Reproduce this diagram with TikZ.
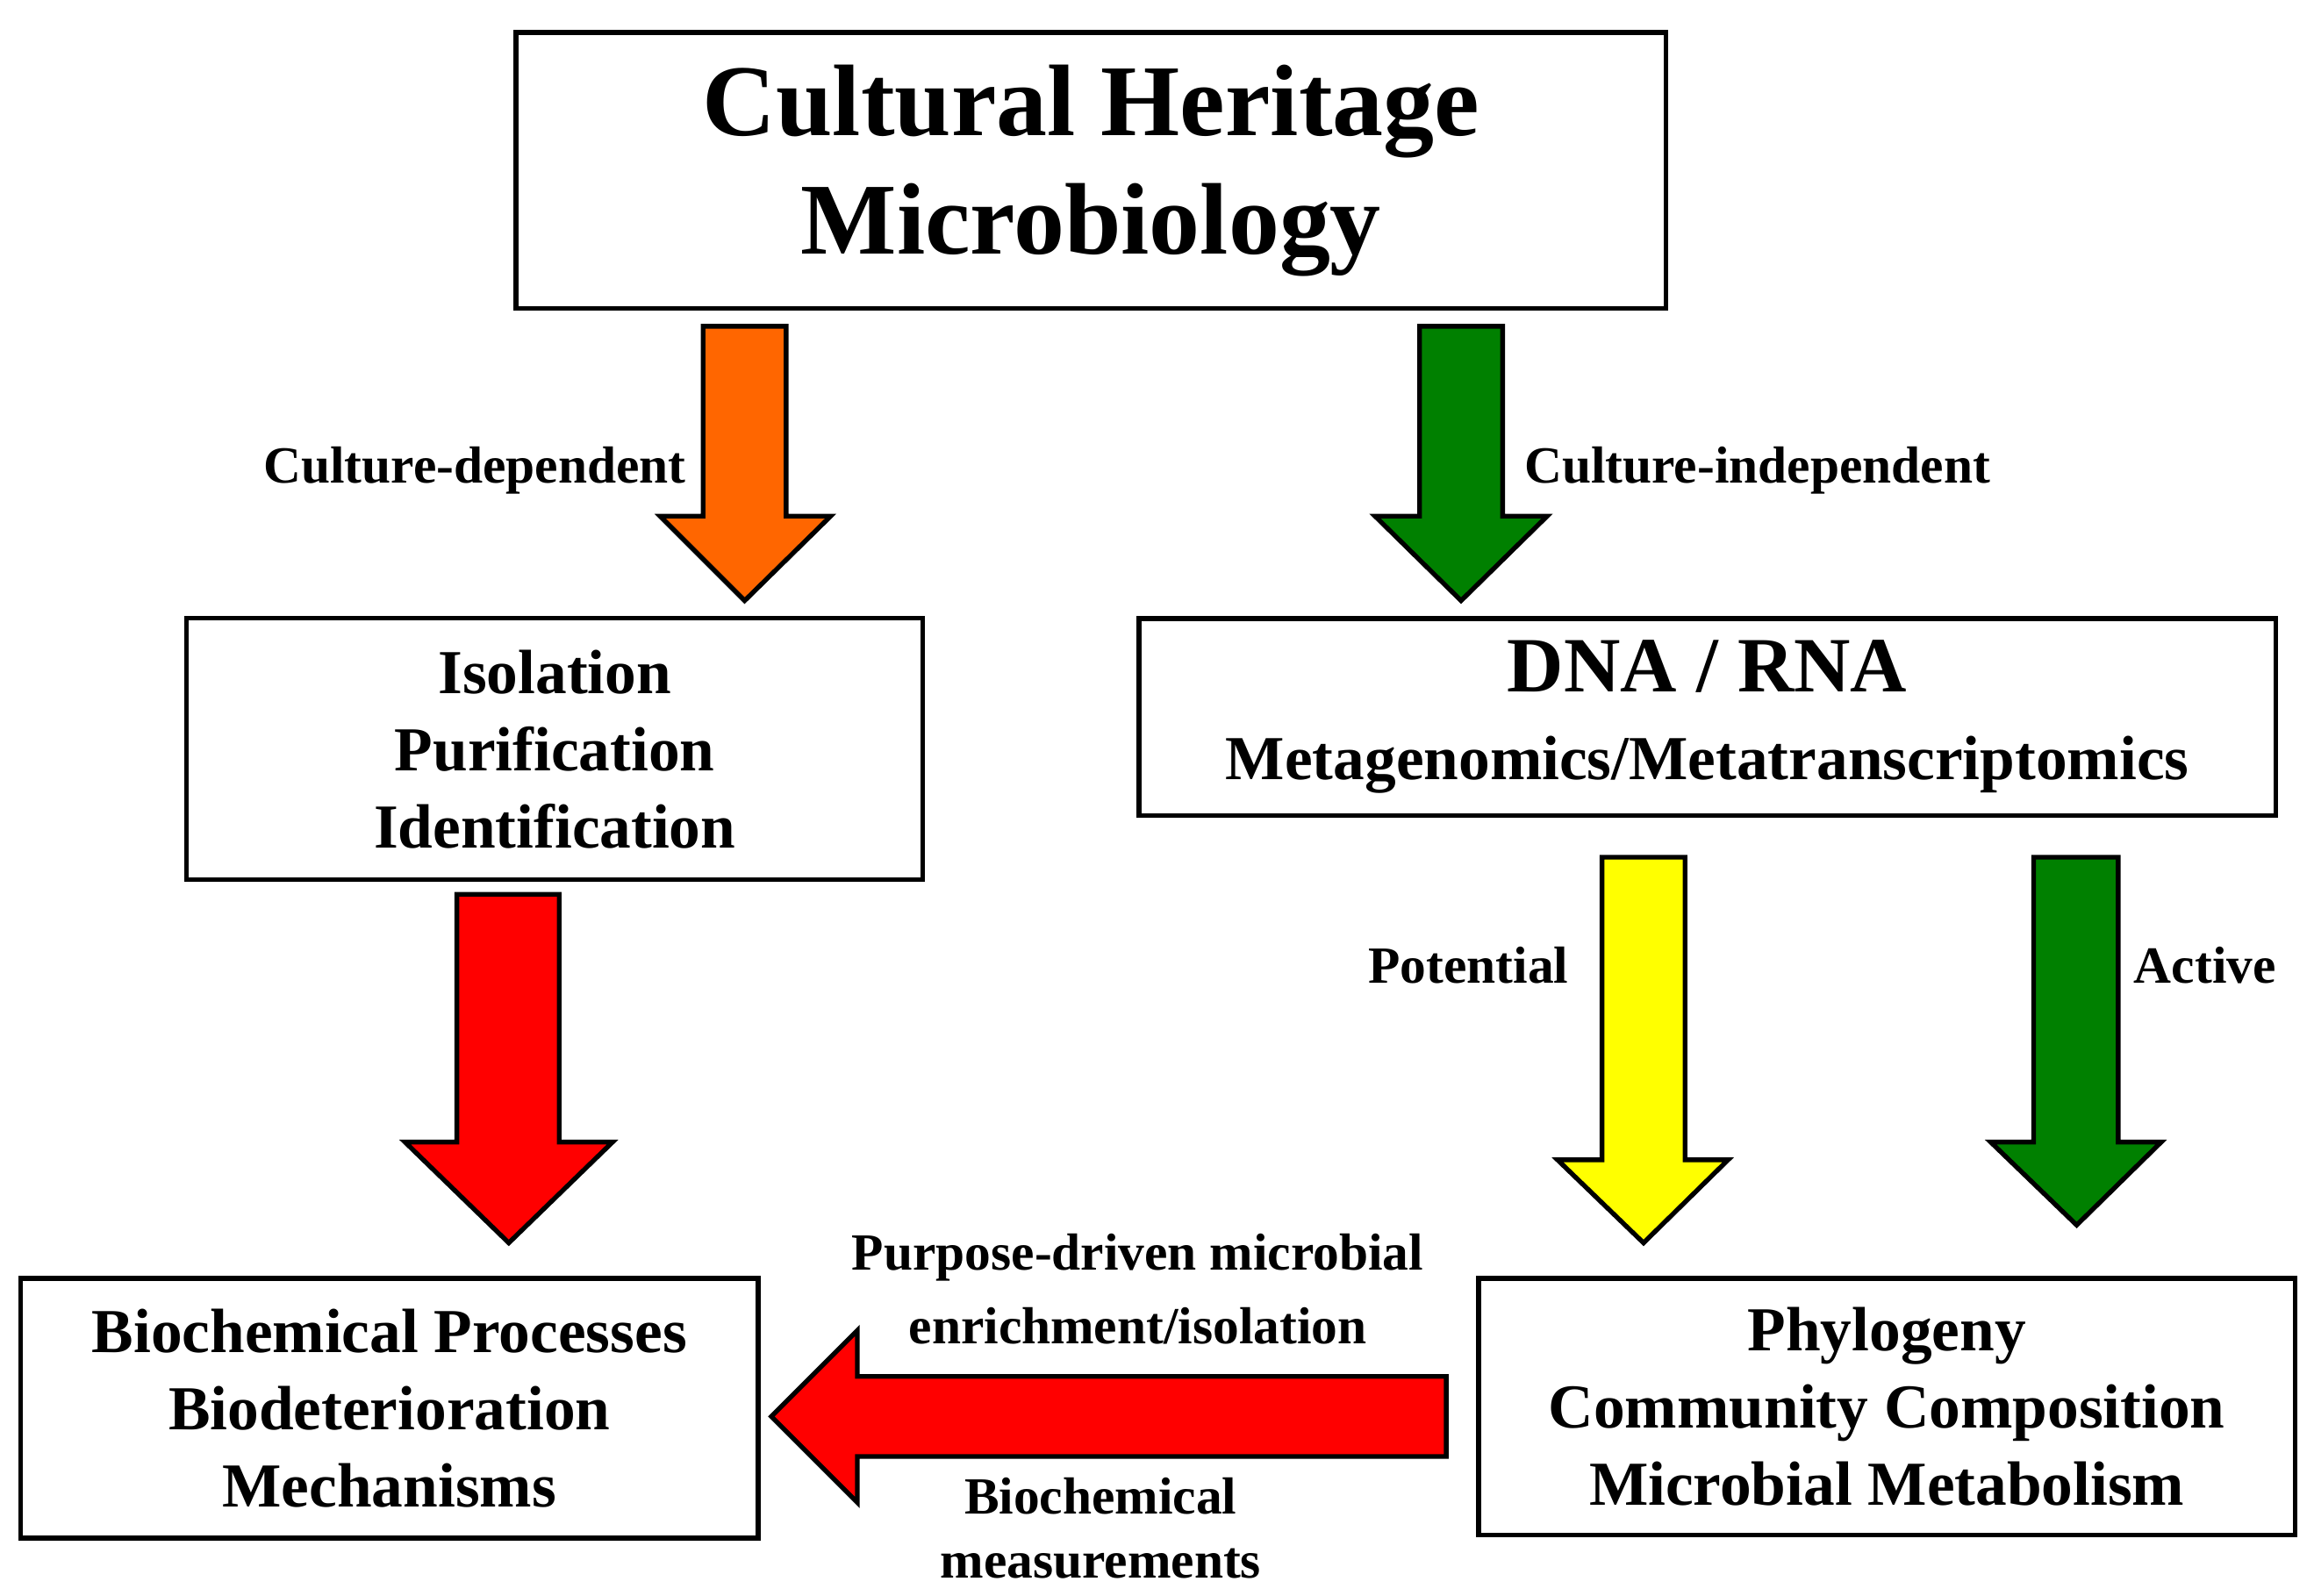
\documentclass[tikz,border=0pt]{standalone}
\usepackage{fontspec}
\setmainfont{Liberation Serif}
\usepackage{tikz}

\definecolor{arrorange}{RGB}{255,102,0}
\definecolor{arrgreen}{RGB}{0,128,0}
\definecolor{arryellow}{RGB}{255,255,0}
\definecolor{arrred}{RGB}{255,0,0}

\tikzset{
  box/.style={draw, line width=0.9pt, align=center, inner sep=0pt, font=\bfseries\fontsize{12}{14.8}\selectfont},
  lbl/.style={font=\bfseries\fontsize{10}{13}\selectfont, inner sep=0pt},
  blk/.style={draw, line width=0.9pt}
}

\begin{document}
\begin{tikzpicture}[x=0.01cm, y=-0.01cm]
\useasboundingbox (0,0) rectangle (1560,1076);

% boxes
\node[box, minimum width=7.75cm, minimum height=1.86cm, font=\bfseries\fontsize{19.5}{22.8}\selectfont] (heritage) at (735.5,115) {Cultural Heritage\\Microbiology};
\node[box, minimum width=4.96cm, minimum height=1.76cm] (isolation) at (374,505) {Isolation\\Purification\\Identification};
\node[box, minimum width=7.66cm, minimum height=1.33cm] (dna) at (1151,483.5) {{\fontsize{15}{17}\selectfont DNA / RNA}\\[2pt]Metagenomics/Metatranscriptomics};
\node[box, minimum width=4.97cm, minimum height=1.75cm] (biochem) at (262.5,949.5) {Biochemical Processes\\Biodeterioration\\Mechanisms};
\node[box, minimum width=5.5cm, minimum height=1.73cm] (phylo) at (1272,948.5) {Phylogeny\\Community Composition\\Microbial Metabolism};

% block arrows
\draw[blk, fill=arrorange] (474,220) -- (530,220) -- (530,348) -- (560,348) -- (502,405) -- (445,348) -- (474,348) -- cycle;
\draw[blk, fill=arrgreen] (957,220) -- (1013,220) -- (1013,348) -- (1043,348) -- (985,405) -- (927,348) -- (957,348) -- cycle;
\draw[blk, fill=arrred] (308,603) -- (377,603) -- (377,770) -- (413,770) -- (343,838) -- (273,770) -- (308,770) -- cycle;
\draw[blk, fill=arryellow] (1080,578) -- (1136,578) -- (1136,782) -- (1165,782) -- (1108,838) -- (1050,782) -- (1080,782) -- cycle;
\draw[blk, fill=arrgreen] (1371,578) -- (1428,578) -- (1428,770) -- (1457,770) -- (1400,826) -- (1342,770) -- (1371,770) -- cycle;
\draw[blk, fill=arrred] (975,928) -- (975,982) -- (578,982) -- (578,1013) -- (520,955) -- (578,897) -- (578,928) -- cycle;

% labels
\node[lbl, anchor=east] (dep) at (463,317) {Culture-dependent};
\node[lbl, anchor=west] (indep) at (1027,317) {Culture-independent};
\node[lbl, anchor=east] (potential) at (1058,651) {Potential};
\node[lbl, anchor=west] (active) at (1438,651) {Active};
\node[lbl] (purpose) at (767,848) {Purpose-driven microbial};
\node[lbl] (enrich) at (767,894) {enrichment/isolation};
\node[lbl] (biochm) at (742,1009) {Biochemical};
\node[lbl] (measure) at (742,1054) {measurements};
\end{tikzpicture}
\end{document}
